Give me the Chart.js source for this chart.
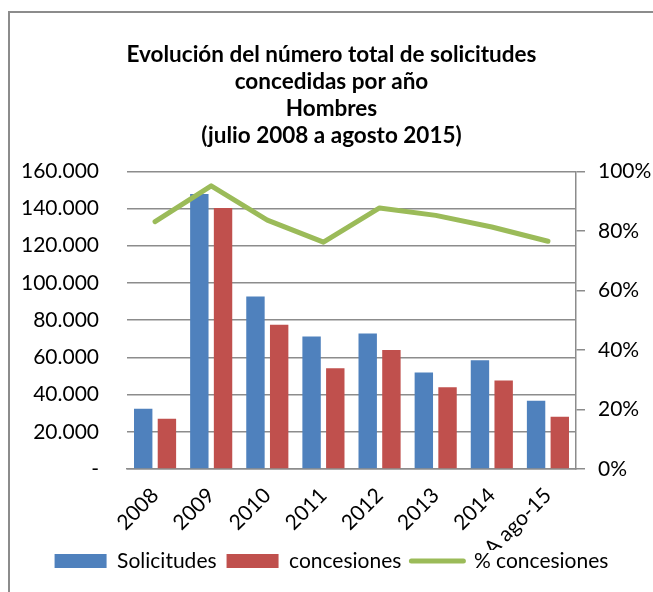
<!DOCTYPE html>
<html>
<head>
<meta charset="utf-8">
<script src="https://cdn.jsdelivr.net/npm/chart.js@4/dist/chart.umd.min.js"></script>
<style>
  html, body { margin: 0; padding: 0; background: #fff; }
  #wrap { position: relative; width: 653px; height: 592px; }
  #frame {
    position: absolute; left: 8px; top: 11px; right: -10px; bottom: -10px;
    border-left: 2px solid #8c8c8c; border-top: 2px solid #8c8c8c;
    pointer-events: none;
  }
</style>
</head>
<body>
<div id="wrap">
  <canvas id="chart" width="653" height="592"></canvas>
  <div id="frame"></div>
</div>
<script>
// ── Data ──────────────────────────────────────────────────────────────────
const years        = ["2008", "2009", "2010", "2011", "2012", "2013", "2014", "A ago-15"];
const solicitudes  = [32400, 147800, 92700, 71200, 72800, 51900, 58500, 36700];
const concesiones  = [27000, 140300, 77500, 54200, 63900, 44000, 47600, 28100];
const pctConcesion = [83.1, 95.1, 83.6, 76.2, 87.7, 85.2, 81.3, 76.5];

const titleLines = [
  "Evolución del número total de solicitudes",
  "concedidas por año",
  "Hombres",
  "(julio 2008 a agosto 2015)",
];

const BLUE  = "#4F81BD";
const RED   = "#C0504D";
const GREEN = "#9BBB59";
const GRID  = "#8c8c8c";
const FONT  = "Lato, 'Open Sans', sans-serif";

// 160.000 style thousands, "-" for zero
function fmtMiles(v) {
  if (v === 0) return "-";
  return String(v).replace(/\B(?=(\d{3})+(?!\d))/g, ".");
}

// x labels are clipped to the axis box, so the axis is made tall enough
// and the legend is pulled back up over the spare room
const legendNudge = {
  id: "legendNudge",
  afterLayout(chart) {
    chart.legend.top    -= 9.5;
    chart.legend.bottom -= 9.5;
  },
};

const ctx = document.getElementById("chart").getContext("2d");

new Chart(ctx, {
  data: {
    labels: years,
    datasets: [
      {
        type: "bar", label: "Solicitudes", data: solicitudes,
        backgroundColor: BLUE, yAxisID: "y", order: 2,
        categoryPercentage: 0.845, barPercentage: 0.776,
      },
      {
        type: "bar", label: "concesiones", data: concesiones,
        backgroundColor: RED, yAxisID: "y", order: 2,
        categoryPercentage: 0.845, barPercentage: 0.776,
      },
      {
        type: "line", label: "% concesiones", data: pctConcesion,
        borderColor: GREEN, borderWidth: 5, pointRadius: 0,
        tension: 0, yAxisID: "y1", order: 0,
        borderCapStyle: "round", borderJoinStyle: "round",
      },
    ],
  },
  plugins: [legendNudge],
  options: {
    responsive: false,
    animation: false,
    layout: { padding: { left: 10, right: 0, top: 0, bottom: 1 } },
    plugins: {
      tooltip: { enabled: false },
      title: {
        display: true,
        text: titleLines,
        color: "#000",
        font: { family: FONT, size: 22.5, weight: "bold", lineHeight: 1.19 },
        padding: { top: 41.7, bottom: 22.5 },
      },
      legend: {
        position: "bottom",
        labels: {
          color: "#000",
          font: { family: FONT, size: 21 },
          usePointStyle: true,
          pointStyleWidth: 52,
          boxHeight: 14,
          padding: 10,
          generateLabels: (chart) => chart.data.datasets.map((ds, i) => ({
            text: ds.label,
            datasetIndex: i,
            fillStyle: ds.type === "line" ? GREEN : ds.backgroundColor,
            strokeStyle: ds.type === "line" ? GREEN : ds.backgroundColor,
            lineWidth: ds.type === "line" ? 5 : 0,
            lineCap: "round",
            pointStyle: ds.type === "line" ? "line" : "rect",
            fontColor: "#000",
          })),
        },
      },
    },
    scales: {
      x: {
        grid: { display: false, drawTicks: false },
        border: { display: true, color: GRID, width: 1.5 },
        ticks: {
          color: "#000", font: { family: FONT, size: 21 },
          minRotation: 45, maxRotation: 45, padding: 14,
        },
        afterFit: (s) => { s.height = 81; },
      },
      y: {
        position: "left",
        min: 0, max: 160000,
        grid: { color: GRID, lineWidth: 1.5, drawTicks: false },
        border: { display: false },
        ticks: {
          stepSize: 20000, color: "#000", padding: 28,
          font: { family: FONT, size: 21 },
          callback: (v) => fmtMiles(v),
        },
        afterFit: (s) => { s.width = 117; },
      },
      y1: {
        position: "right",
        min: 0, max: 100,
        grid: { drawOnChartArea: false, color: GRID, lineWidth: 1.5, tickLength: 9 },
        border: { display: true, color: GRID, width: 1.5 },
        ticks: {
          stepSize: 20, color: "#000", padding: 13,
          font: { family: FONT, size: 21 },
          callback: (v) => v + "%",
        },
        afterFit: (s) => { s.width = 77; },
      },
    },
  },
});
</script>
</body>
</html>
